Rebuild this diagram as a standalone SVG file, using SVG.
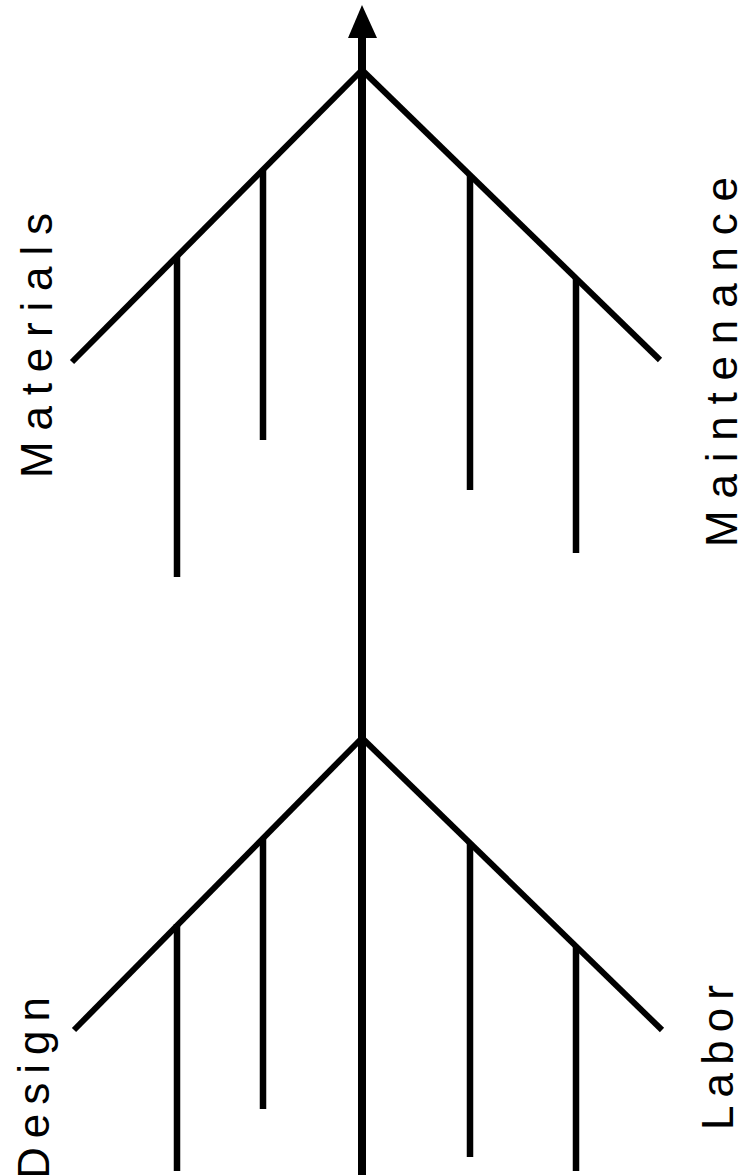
<svg xmlns="http://www.w3.org/2000/svg" width="756" height="1175" viewBox="0 0 756 1175">
<style>
.bone{stroke:#000;stroke-width:6;fill:none;stroke-linecap:butt}
.rib{stroke:#000;stroke-width:6.5;fill:none;stroke-linecap:butt}
.spine{stroke:#000;stroke-width:8;fill:none}
.lbl{font-family:"Liberation Sans",Arial,sans-serif;font-size:44px;fill:#000}
</style>
<rect width="756" height="1175" fill="#fff"/>
<g id="connectors">
<line class="spine" x1="362" y1="1175" x2="362" y2="34"/>
<polygon points="362,5 348,38 377,38" fill="#000"/>
<line class="bone" x1="362" y1="70" x2="72" y2="362"/>
<line class="bone" x1="362" y1="70" x2="660" y2="360"/>
<line class="rib" x1="177" y1="256" x2="177" y2="577"/>
<line class="rib" x1="263" y1="170" x2="263" y2="440"/>
<line class="rib" x1="470" y1="175" x2="470" y2="490"/>
<line class="rib" x1="576" y1="278" x2="576" y2="553"/>
<line class="bone" x1="362" y1="738" x2="74" y2="1030"/>
<line class="bone" x1="362" y1="738" x2="662" y2="1030"/>
<line class="rib" x1="177" y1="924" x2="177" y2="1171"/>
<line class="rib" x1="263" y1="838" x2="263" y2="1109"/>
<line class="rib" x1="470" y1="843" x2="470" y2="1157"/>
<line class="rib" x1="576" y1="946" x2="576" y2="1171"/>
</g>
<g id="materials"><text class="lbl" transform="translate(52,478) rotate(-90)" textLength="265" lengthAdjust="spacing">Materials</text></g>
<g id="maintenance"><text class="lbl" transform="translate(737,547) rotate(-90)" textLength="370" lengthAdjust="spacing">Maintenance</text></g>
<g id="design"><text class="lbl" transform="translate(49,1179) rotate(-90)" textLength="182" lengthAdjust="spacing">Design</text></g>
<g id="labor"><text class="lbl" transform="translate(733,1130) rotate(-90)" textLength="145" lengthAdjust="spacing">Labor</text></g>
</svg>
